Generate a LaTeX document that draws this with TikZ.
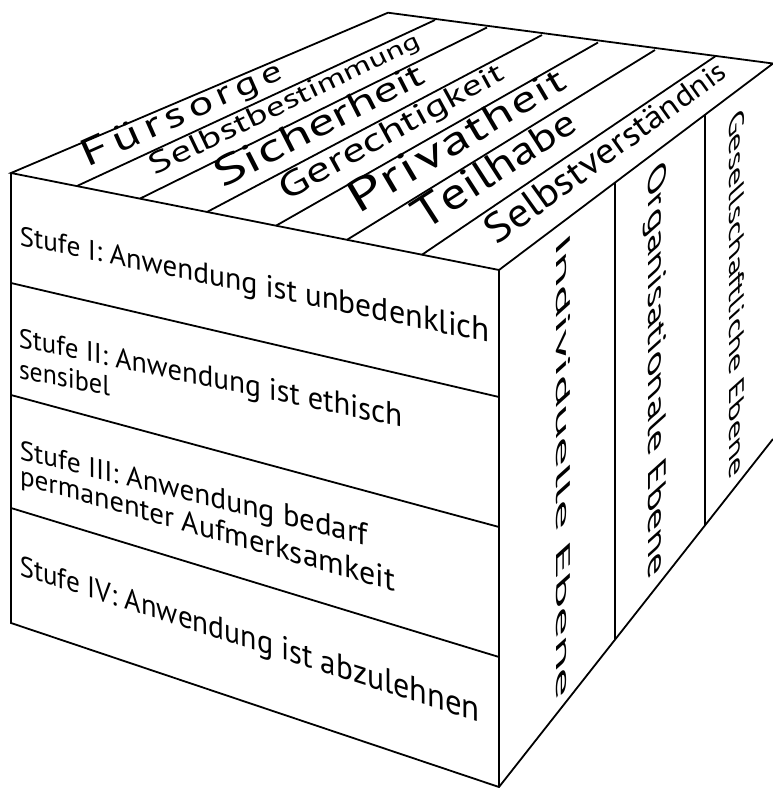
\documentclass[tikz,border=0pt]{standalone}
\usepackage{fontspec}
\setmainfont{PT Sans}
\newfontfamily\measfont{PT Sans}
\usepackage{graphicx}
\usetikzlibrary{calc}
\tikzset{
  edge/.style={line width=1.8pt, line join=miter},
  thinedge/.style={line width=1.5pt},
  txt/.style={inner sep=0pt, outer sep=0pt, transform shape, font=\measfont},
}
\newcommand\facetext[6]{%
  \begin{scope}[shift={(#2,#3)}, cm={#4,(0,0)}]
    \node[txt, anchor=#5] (#1) at (0,0) {#6};
  \end{scope}}
% glyph widths, measured inside a node (where the font is active)
\newcommand\measureall{%
  \foreach \c in {A,F,G,I,P,S,T,V,a,b,c,d,e,f,g,h,i,k,l,m,n,o,p,r,s,t,u,v,w,z,ä,ü,:,~}{%
    \setbox0\hbox{\measfont\c}%
    \expandafter\xdef\csname pw@\detokenize\expandafter{\c}\endcsname{\the\wd0}}%
  \setbox0\hbox{\measfont H}\xdef\pHval{\the\ht0}}
\def\getw{\edef\curw{\csname pw@\detokenize\expandafter{\ch}\endcsname}}
% perspective text: letters grow/shrink linearly along the line
\def\panchor{mid west}
\def\poff{0.5}
\newcommand\persp[9]{% #1 name, #2 x, #3 y, #4 cm, #5 letters, #6 length, #7 end/start ratio, #8 start cap height, #9 extra gap
\begin{scope}[shift={(#2,#3)}, cm={#4,(0,0)}]
  \xdef\pW{0}%
  \foreach \ch in {#5}{\getw\pgfmathsetmacro\tmp{\pW+\curw+#9}\xdef\pW{\tmp}}%
  \pgfmathsetmacro\sA{2*#6/(\pW*(1+#7))}%
  \pgfmathsetmacro\asp{#8/(\sA*\pHval)}%
  \xdef\pu{0}%
  \foreach \ch [count=\k] in {#5}{%
    \getw
    \pgfmathsetmacro\fr{\pu/\pW}%
    \pgfmathsetmacro\s{\sA*(1+(#7-1)*(\pu+0.5*\curw)/\pW)}%
    \pgfmathsetmacro\sy{\s*\asp}%
    \pgfmathsetmacro\xx{\sA*\pu*(1+(#7-1)*\fr/2)-\poff*#6}%
    \begin{scope}[shift={(\xx,0)}, xscale=\s, yscale=\sy]
      \node[txt, anchor=\panchor] (#1\k) at (0,0) {\ch};
    \end{scope}%
    \pgfmathsetmacro\tmp{\pu+\curw+#9}\xdef\pu{\tmp}%
  }%
\end{scope}}
\begin{document}
\begin{tikzpicture}[x=1pt, y=-1pt]
\useasboundingbox (0,0) rectangle (773,788);
\node[inner sep=0pt, outer sep=0pt] (measure) at (386,394) {\measureall};
% cube corners
\coordinate (FL) at (11,173);
\coordinate (FR) at (499,270);
\coordinate (BK) at (388,12.7);
\coordinate (RT) at (773,63.5);
\coordinate (BL) at (11,623);
\coordinate (BR) at (499,787);
\coordinate (RB) at (773,439);
% front dividers
\coordinate (A1) at (11,283);  \coordinate (B1) at (499,397);
\coordinate (A2) at (11,395);  \coordinate (B2) at (499,527);
\coordinate (A3) at (11,508);  \coordinate (B3) at (499,657);
% top stripes
\coordinate (P1) at (77,186);    \coordinate (Q1) at (435,20);
\coordinate (P2) at (140,198.6); \coordinate (Q2) at (487,27.5);
\coordinate (P3) at (207,212);   \coordinate (Q3) at (542,35);
\coordinate (P4) at (276,225.7); \coordinate (Q4) at (598,42.5);
\coordinate (P5) at (347,239.8); \coordinate (Q5) at (655,50);
\coordinate (P6) at (422,254.7); \coordinate (Q6) at (715,56.5);
% right face verticals
\coordinate (V1t) at ($(FR)!0.4234!(RT)$);
\coordinate (V1b) at ($(BR)!0.4234!(RB)$);
\coordinate (V2t) at ($(FR)!0.7518!(RT)$);
\coordinate (V2b) at ($(BR)!0.7518!(RB)$);

% lines
\draw[edge] (FL) -- (BK) -- (RT) -- (FR) -- cycle;
\draw[edge] (FL) -- (BL) -- (BR) -- (RB);
\draw[edge] (FR) -- (BR);
\draw[edge] (A1) -- (B1);
\draw[edge] (A2) -- (B2);
\draw[edge] (A3) -- (B3);
\foreach \i in {1,...,6} { \draw[edge] (P\i) -- (Q\i); }
\draw[thinedge] (V1t) -- (V1b);
\draw[thinedge] (V2t) -- (V2b);

% top face texts (centred on stripe centre lines)
\persp{ta}{185}{114}{0.914,0.406,-0.406,0.914}{F,ü,r,s,o,r,g,e}{221}{0.75}{27}{1.2}
\persp{tb}{285.2}{104.7}{0.902,0.431,-0.431,0.902}{S,e,l,b,s,t,b,e,s,t,i,m,m,u,n,g}{296}{0.75}{21}{0}
\persp{tc}{320.7}{127}{0.891,0.455,-0.455,0.891}{S,i,c,h,e,r,h,e,i,t}{231}{0.78}{29}{0}
\persp{td}{392.2}{133}{0.877,0.481,-0.481,0.877}{G,e,r,e,c,h,t,i,g,k,e,i,t}{251}{0.76}{25}{0}
\persp{te}{458.7}{142.3}{0.860,0.509,-0.509,0.860}{P,r,i,v,a,t,h,e,i,t}{247}{0.75}{32}{0.3}
\persp{tf}{496.2}{171.8}{0.840,0.542,-0.542,0.840}{T,e,i,l,h,a,b,e}{186}{0.78}{32}{0}
\persp{tg}{607.7}{153.8}{0.814,0.581,-0.581,0.814}{S,e,l,b,s,t,v,e,r,s,t,ä,n,d,n,i,s}{287}{0.67}{29}{0}

% front face texts (start at the left, on the baseline)
\def\panchor{base west}\def\poff{0}
\persp{sa}{20}{245}{1,-0.208,0,1}{S,t,u,f,e,~,I,:,~,A,n,w,e,n,d,u,n,g,~,i,s,t,~,u,n,b,e,d,e,n,k,l,i,c,h}{470}{1.25}{19}{0}
\persp{sb}{19}{347}{1,-0.209,0,1}{S,t,u,f,e,~,I,I,:,~,A,n,w,e,n,d,u,n,g,~,i,s,t,~,e,t,h,i,s,c,h}{384}{1.2}{19}{0}
\persp{sc}{19}{378}{1,-0.2,0,1}{s,e,n,s,i,b,e,l}{91}{1.04}{19}{0}
\persp{sd}{20}{459}{1,-0.25,0,1}{S,t,u,f,e,~,I,I,I,:,~,A,n,w,e,n,d,u,n,g,~,b,e,d,a,r,f}{348}{1.18}{19}{0}
\persp{se}{20}{484}{1,-0.286,0,1}{p,e,r,m,a,n,e,n,t,e,r,~,A,u,f,m,e,r,k,s,a,m,k,e,i,t}{375}{1.2}{19}{0}
\persp{sf}{20}{575}{1,-0.32,0,1}{S,t,u,f,e,~,I,V,:,~,A,n,w,e,n,d,u,n,g,~,i,s,t,~,a,b,z,u,l,e,h,n,e,n}{460}{1.25}{20}{0}

% right face texts
\facetext{r1}{556}{242}{0,-1,1,0.9}{base west}{\resizebox{461pt}{14pt}{Individuelle Ebene}}
\facetext{r2}{648}{172}{0,-1,1,0.9}{base west}{\resizebox{410pt}{18pt}{Organisationale Ebene}}
\facetext{r3}{729}{118}{0,-1,1,0.9}{base west}{\resizebox{364pt}{15pt}{Gesellschaftliche Ebene}}
\end{tikzpicture}
\end{document}
